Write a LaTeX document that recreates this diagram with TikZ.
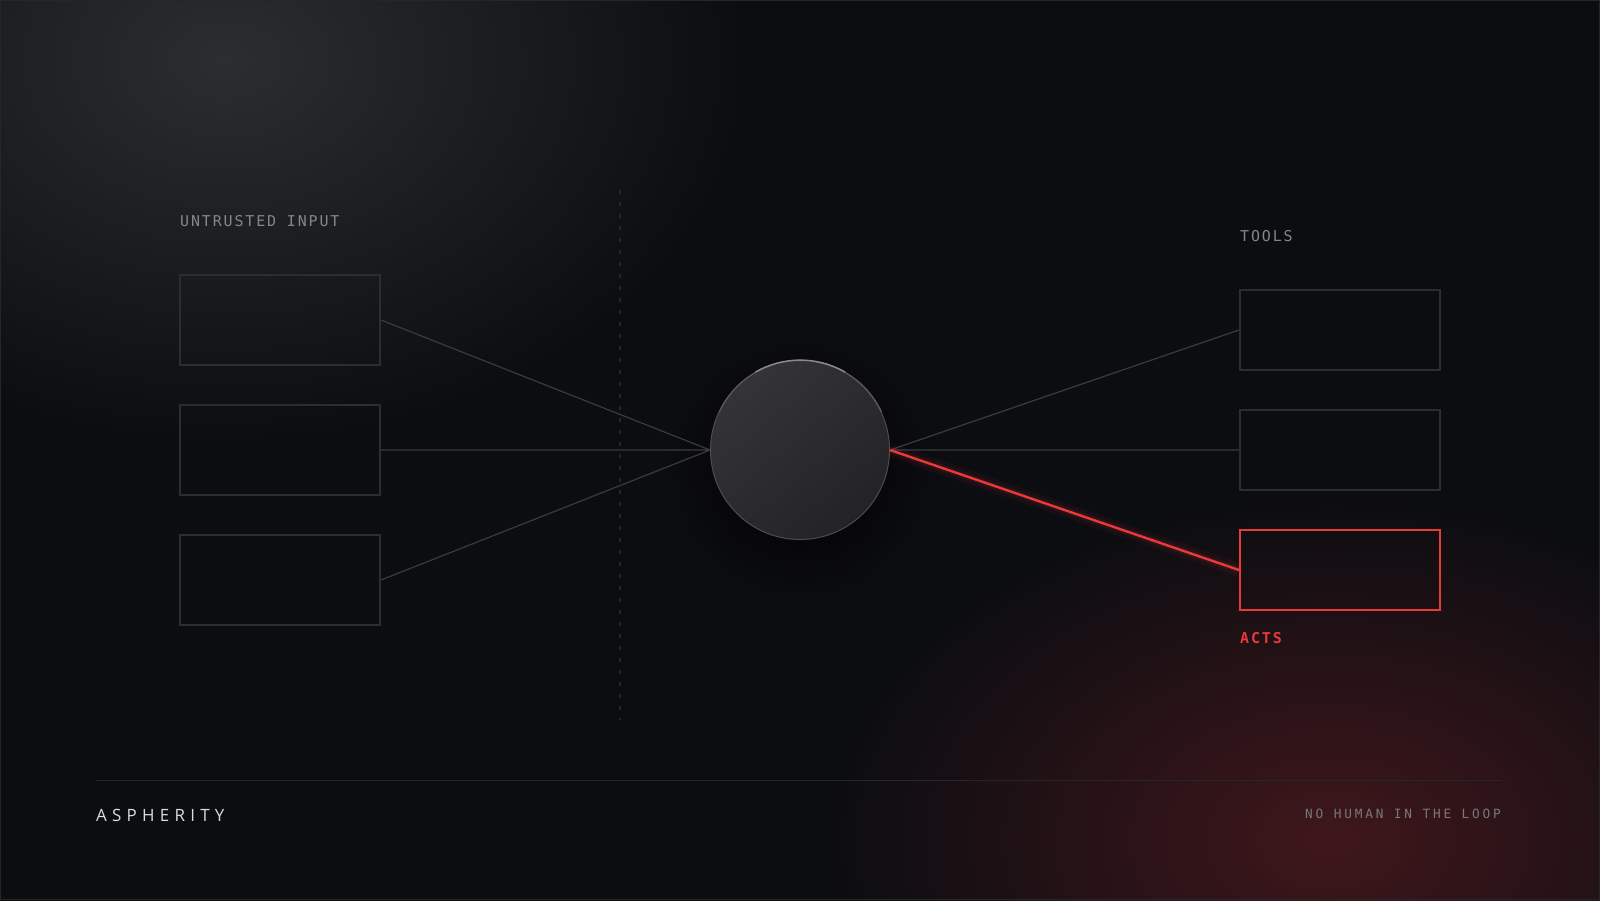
\documentclass[tikz,border=0pt]{standalone}
\usepackage{fontspec}
\newfontfamily\tagfont{DejaVu Sans Mono}[LetterSpace=12.5]
\newfontfamily\footfont{DejaVu Sans Mono}[LetterSpace=22]
\newfontfamily\brandfont{Open Sans}[LetterSpace=31]
\definecolor{bg}{HTML}{0C0D11}
\definecolor{glowgrey}{HTML}{2C2D31}
\definecolor{glowred}{HTML}{3F171B}
\definecolor{boxline}{HTML}{2C2D31}
\definecolor{wire}{HTML}{3A3B40}
\definecolor{hot}{HTML}{E8393B}
\definecolor{labelgrey}{HTML}{85868A}
\definecolor{brand}{HTML}{DCDCDE}
\definecolor{footgrey}{HTML}{77787C}
\definecolor{rule}{HTML}{25262A}
\definecolor{rimlo}{HTML}{4C4C51}
\definecolor{rimmid}{HTML}{5C5C61}
\definecolor{rimhi}{HTML}{8A8A8E}
\tikzset{
  inbox/.style={draw=boxline, line width=2bp, minimum width=200bp, minimum height=90bp, inner sep=0pt},
  toolbox/.style={inbox, minimum height=80bp},
  wire/.style={draw=wire, line width=1.2bp},
  tag/.style={anchor=base west, inner sep=0pt, text=labelgrey, font=\tagfont\fontsize{15}{15}\selectfont}
}
\begin{document}
\begin{tikzpicture}[x=1bp,y=-1bp]
\useasboundingbox (0,0) rectangle (1600,900);
% background and glows
\fill[bg] (-5,-5) rectangle (1605,905);
\begin{scope}
\clip (0,0) rectangle (1600,900);
\shade[inner color=glowgrey, outer color=bg] (225,60) ellipse (520 and 380);
\shade[inner color=glowred, outer color=bg] (1330,840) ellipse (500 and 340);
\shade[inner color=black, outer color=bg] (800,470) circle (140);
\end{scope}
\draw[rule, line width=1bp] (0.5,0.5) rectangle (1599.5,899.5);

% divider
\draw[rule, line width=1.5bp, dash pattern=on 4bp off 8bp] (620,190) -- (620,720);

% nodes
\node (i1) at (280,320) [inbox] {};
\node (i2) at (280,450) [inbox] {};
\node (i3) at (280,580) [inbox] {};
\node (t1) at (1340,330) [toolbox] {};
\node (t2) at (1340,450) [toolbox] {};
\node (t3) at (1340,570) [toolbox, draw=hot] {};
\node (c) at (800,450) [circle, minimum size=179bp, inner sep=0pt, draw=rimlo, line width=1bp,
  top color={rgb,255:red,52;green,52;blue,55}, middle color={rgb,255:red,28;green,28;blue,31},
  bottom color={rgb,255:red,35;green,35;blue,38}, shading angle=40] {};
\draw[rimmid, line width=1bp] (c.25) arc[start angle=25, end angle=155, radius=89.5bp];
\draw[rimhi, line width=1.4bp] (c.60) arc[start angle=60, end angle=120, radius=89.5bp];

\node (lin) at (180,226) [tag] {UNTRUSTED INPUT};
\node (ltools) at (1240,241) [tag] {TOOLS};
\node (lacts) at (1240,643) [tag, text=hot, font=\tagfont\bfseries\fontsize{15}{15}\selectfont] {ACTS};

% connectors
\draw[wire]
(i1.east) to (c.west)
(i2.east) to (c.west)
(i3.east) to (c.west)
(c.east) to (t1.west)
(c.east) to (t2.west);
\draw[hot, opacity=.05, line width=14bp] (c.east) to (t3.west);
\draw[hot, opacity=.09, line width=7bp] (c.east) to (t3.west);
\draw[hot, line width=2.4bp] (c.east) to (t3.west);

% footer
\coordinate (fl) at (96,780);
\coordinate (fr) at (1502,780);
\draw[rule, line width=1bp] (fl) -- (fr);
\node (brand) at (96,821) [anchor=base west, inner sep=0pt, text=brand, font=\brandfont\fontsize{17}{17}\selectfont] {ASPHERITY};
\node (motto) at (1501,818) [anchor=base east, inner sep=0pt, text=footgrey, font=\footfont\fontsize{12.8}{12.8}\selectfont] {NO HUMAN IN THE LOOP};
\end{tikzpicture}
\end{document}
